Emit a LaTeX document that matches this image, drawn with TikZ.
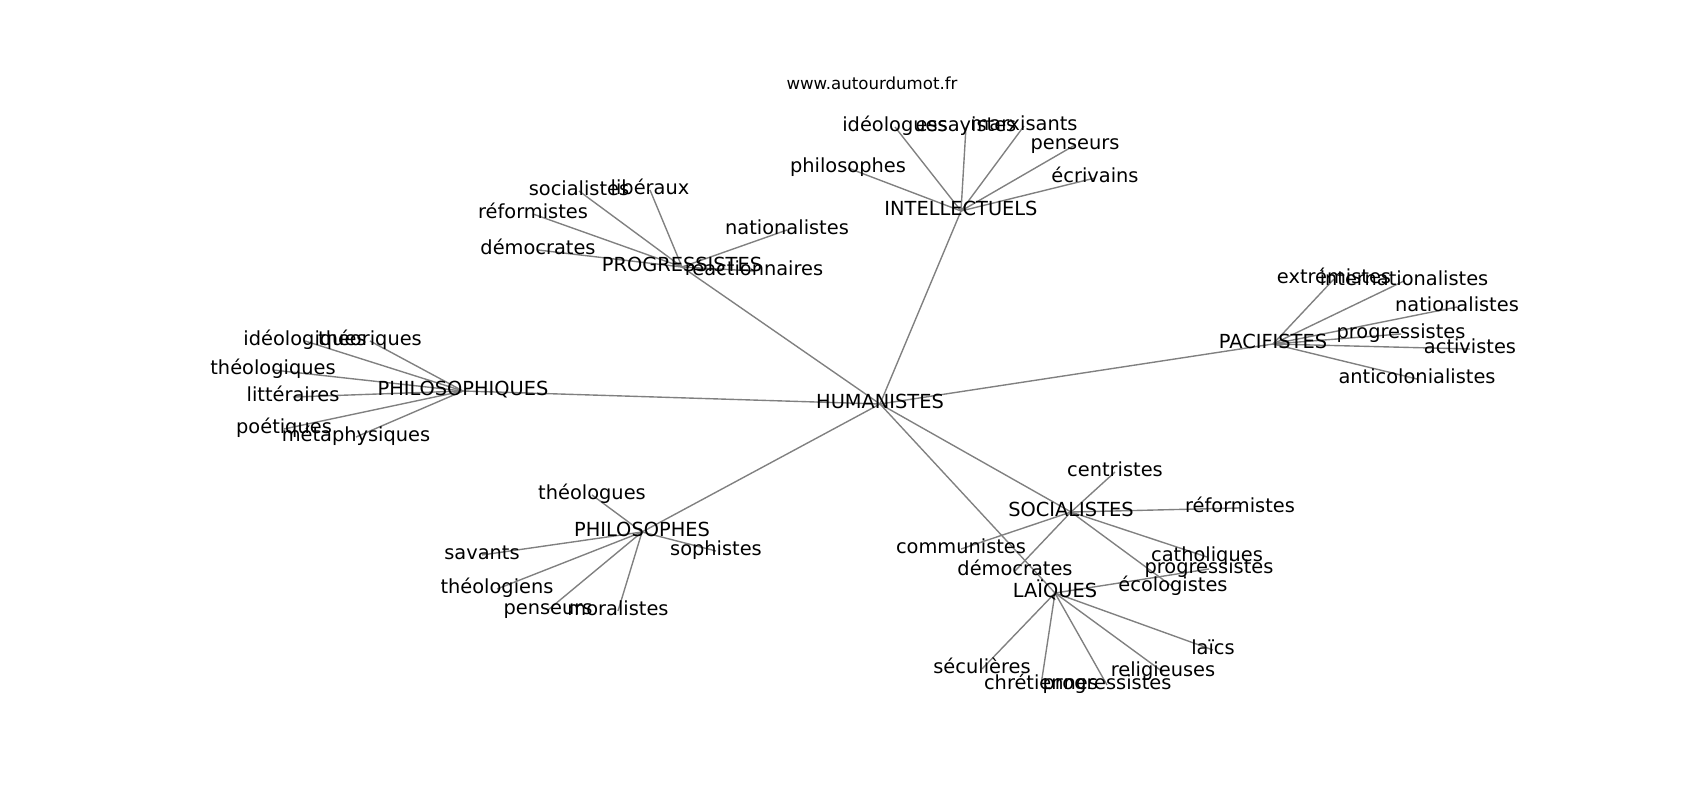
\documentclass[tikz,border=0pt]{standalone}
\usepackage{fontspec}
\setmainfont{DejaVu Sans}
\usetikzlibrary{backgrounds}
\tikzset{
  lbl/.style={inner sep=0pt, outer sep=0pt, font=\fontsize{14}{16}\selectfont, text height=0.95em, text depth=0.25em, anchor=center},
  ttl/.style={inner sep=0pt, font=\fontsize{12}{14}\selectfont},
  edge/.style={draw=black!50, line width=1pt}
}
\begin{document}
\begin{tikzpicture}[x=0.01in, y=-0.01in]
\useasboundingbox (0,0) rectangle (1700,800);
\node[ttl] (title) at (872,83) {www.autourdumot.fr};
% hubs
\node[lbl] (hum) at (880,404) {HUMANISTES};
\node[lbl] (int) at (961,211) {INTELLECTUELS};
\node[lbl] (pro) at (682,267) {PROGRESSISTES};
\node[lbl] (phq) at (463,391) {PHILOSOPHIQUES};
\node[lbl] (pac) at (1273,344) {PACIFISTES};
\node[lbl] (phs) at (642,532) {PHILOSOPHES};
\node[lbl] (soc) at (1071,512) {SOCIALISTES};
\node[lbl] (lai) at (1055,593) {LAÏQUES};
% intellectuels
\node[lbl] (i1) at (895,127) {idéologues};
\node[lbl] (i2) at (966,127) {essayistes};
\node[lbl] (i3) at (1024,126) {marxisants};
\node[lbl] (i4) at (1075,145) {penseurs};
\node[lbl] (i5) at (1095,178) {écrivains};
\node[lbl] (i6) at (848,168) {philosophes};
% progressistes
\node[lbl] (p1) at (579,191) {socialistes};
\node[lbl] (p2) at (650,190) {libéraux};
\node[lbl] (p3) at (533,214) {réformistes};
\node[lbl] (p4) at (538,250) {démocrates};
\node[lbl] (p5) at (787,230) {nationalistes};
\node[lbl] (p6) at (754,271) {réactionnaires};
% philosophiques
\node[lbl] (q1) at (305,341) {idéologiques};
\node[lbl] (q2) at (370,341) {théoriques};
\node[lbl] (q3) at (273,370) {théologiques};
\node[lbl] (q4) at (293,397) {littéraires};
\node[lbl] (q5) at (284,429) {poétiques};
\node[lbl] (q6) at (356,437) {métaphysiques};
% pacifistes
\node[lbl] (a1) at (1334,279) {extrémistes};
\node[lbl] (a2) at (1404,281) {internationalistes};
\node[lbl] (a3) at (1457,307) {nationalistes};
\node[lbl] (a4) at (1401,334) {progressistes};
\node[lbl] (a5) at (1470,349) {activistes};
\node[lbl] (a6) at (1417,379) {anticolonialistes};
% philosophes
\node[lbl] (h1) at (592,495) {théologues};
\node[lbl] (h2) at (482,555) {savants};
\node[lbl] (h3) at (716,551) {sophistes};
\node[lbl] (h4) at (497,589) {théologiens};
\node[lbl] (h5) at (548,610) {penseurs};
\node[lbl] (h6) at (618,611) {moralistes};
% socialistes
\node[lbl] (s1) at (1115,472) {centristes};
\node[lbl] (s2) at (1240,508) {réformistes};
\node[lbl] (s3) at (961,549) {communistes};
\node[lbl] (s4) at (1015,571) {démocrates};
\node[lbl] (s5) at (1207,557) {catholiques};
\node[lbl] (s6) at (1173,587) {écologistes};
% laiques
\node[lbl] (l1) at (1209,569) {progressistes};
\node[lbl] (l2) at (982,669) {séculières};
\node[lbl] (l3) at (1041,685) {chrétiennes};
\node[lbl] (l4) at (1107,685) {progressistes};
\node[lbl] (l5) at (1163,672) {religieuses};
\node[lbl] (l6) at (1213,650) {laïcs};
\begin{pgfonlayer}{background}
\foreach \h in {int,pro,phq,pac,phs,soc,lai}
  \draw[edge] (hum.center) -- (\h.center);
\foreach \l in {i1,i2,i3,i4,i5,i6}
  \draw[edge] (int.center) -- (\l.center);
\foreach \l in {p1,p2,p3,p4,p5,p6}
  \draw[edge] (pro.center) -- (\l.center);
\foreach \l in {q1,q2,q3,q4,q5,q6}
  \draw[edge] (phq.center) -- (\l.center);
\foreach \l in {a1,a2,a3,a4,a5,a6}
  \draw[edge] (pac.center) -- (\l.center);
\foreach \l in {h1,h2,h3,h4,h5,h6}
  \draw[edge] (phs.center) -- (\l.center);
\foreach \l in {s1,s2,s3,s4,s5,s6}
  \draw[edge] (soc.center) -- (\l.center);
\foreach \l in {l1,l2,l3,l4,l5,l6}
  \draw[edge] (lai.center) -- (\l.center);
\end{pgfonlayer}
\end{tikzpicture}
\end{document}
